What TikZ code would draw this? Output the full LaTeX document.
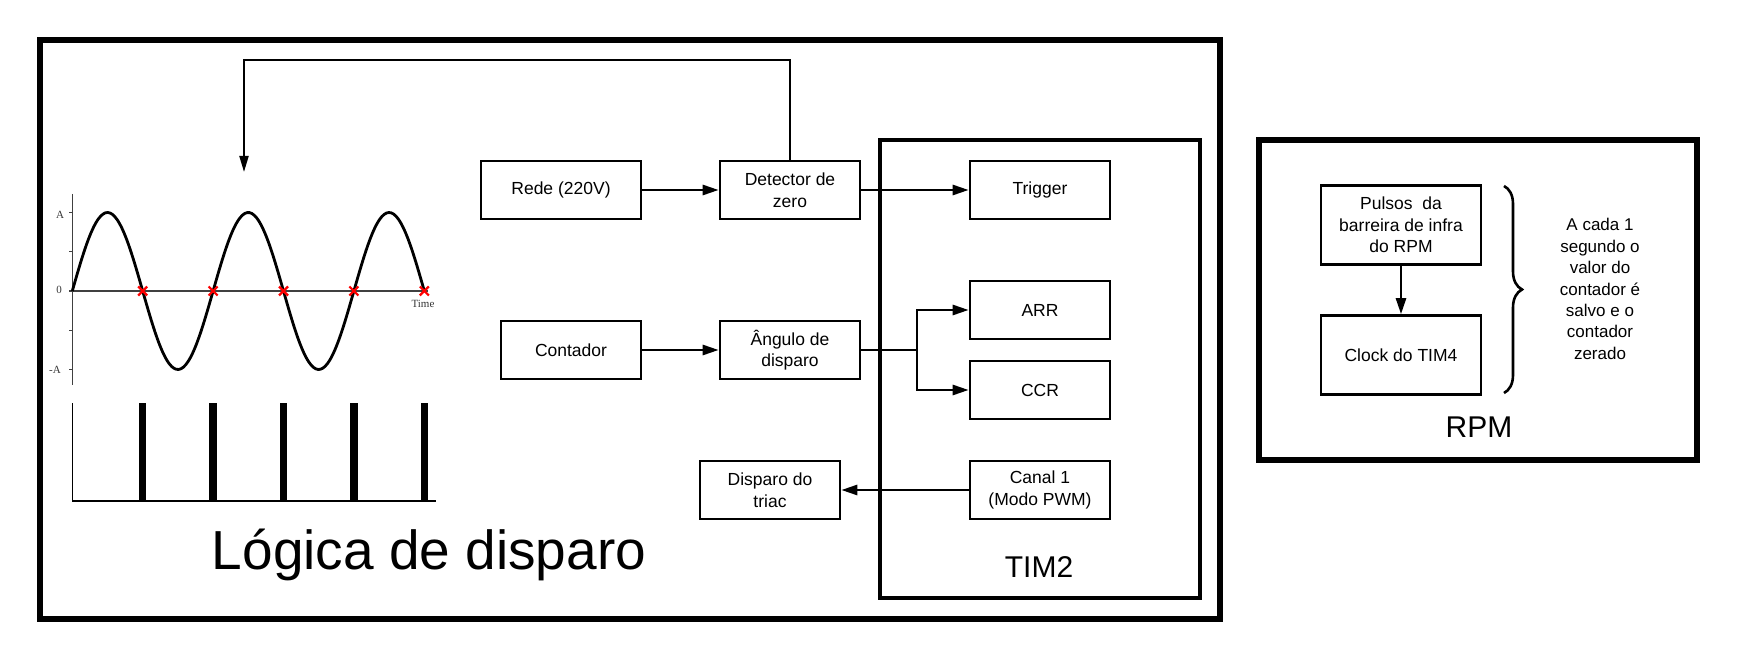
\documentclass[tikz,border=0pt]{standalone}
\usepackage{fontspec}
\setmainfont{Liberation Sans}
\newfontfamily\serifa{Liberation Serif}
\usepackage{tikz}
\usetikzlibrary{positioning}
\usetikzlibrary{arrows.meta}
\usetikzlibrary{decorations.pathreplacing}
\begin{document}
\begin{tikzpicture}[x=1pt,y=-1pt]
% paramètres
\tikzstyle blocodisparo=[draw,line width=2.6pt,minimum width=140pt,minimum height=58pt,inner sep=0pt,align=center,font=\fontsize{17.5}{21.5}\selectfont]
\tikzstyle moldura=[draw,line width=6pt]
\tikzstyle molduratim=[draw,line width=4.5pt]
\tikzstyle setadisparo=[line width=2.6pt,-{Triangle[length=16pt,width=10pt]}]
\tikzstyle eixoonda=[color=black!75,line width=1.3pt]
\tikzstyle curvaonda=[line width=2.8pt]
\tikzstyle cruzonda=[color=red,line width=2.2pt]
\tikzstyle rotuloonda=[color=black!80,font=\serifa\fontsize{11}{11}\selectfont]
\newcommand{\ondax}{72.3}   % origine de l'axe
\newcommand{\ondazero}{291} % ligne du zéro
\newcommand{\ondaamp}{78.5} % amplitude
\newcommand{\ondaper}{70.4} % demi-période
\useasboundingbox (0,0) rectangle (1740,660);
% les cadres
\draw [moldura] (40,40) rectangle (1220,619);
\draw [molduratim] (880,140) rectangle (1200,598);
\draw [moldura] (1259,140) rectangle (1697,460);
% la sinusoïde
\draw [eixoonda] (\ondax,194) -- (\ondax,385);
\draw [eixoonda] (\ondax,\ondazero) -- (428,\ondazero);
\foreach \y in {212.5,251.7,291,330.2,369.5}
    \draw [eixoonda] (\ondax-3,\y) -- (\ondax,\y);
\node [rotuloonda] (ra) at (60,215) {A};
\node [rotuloonda] (rz) at (59,290) {0};
\node [rotuloonda] (rm) at (55,370) {-A};
\node [rotuloonda] (rt) at (423,304) {Time};
\draw [curvaonda,domain=\ondax:424.3,samples=150,smooth] plot (\x,{\ondazero-\ondaamp*sin((\x-\ondax)/\ondaper*180)});
\foreach \x in {142.7,213.1,283.5,353.9,424.3}
    \draw [cruzonda] (\x-4.5,\ondazero-4.5) -- (\x+4.5,\ondazero+4.5) (\x-4.5,\ondazero+4.5) -- (\x+4.5,\ondazero-4.5);
% les impulsions
\draw [line width=1.3pt] (\ondax,403) -- (\ondax,501) -- (436,501);
\foreach \x in {142.7,213.1,283.5,353.9,424.3}
    \fill (\x-3.7,403) rectangle (\x+3.7,501);
% les blocs
\node [blocodisparo,minimum width=160pt] (rede) at (561,190) {Rede (220V)};
\node [blocodisparo] (detector) at (790,190) {Detector de\\zero};
\node [blocodisparo] (trigger) at (1040,190) {Trigger};
\node [blocodisparo] (contador) at (571,350) {Contador};
\node [blocodisparo] (angulo) at (790,350) {Ângulo de\\disparo};
\node [blocodisparo] (arr) at (1040,310) {ARR};
\node [blocodisparo] (ccr) at (1040,390) {CCR};
\node [blocodisparo] (canal) at (1040,490) {Canal 1\\(Modo PWM)};
\node [blocodisparo] (triac) at (770,490) {Disparo do\\triac};
\node [blocodisparo,minimum width=160pt,minimum height=79pt] (pulsos) at (1401,225) {Pulsos~ da\\barreira de infra\\do RPM};
\node [blocodisparo,minimum width=160pt,minimum height=79pt] (clock) at (1401,355) {Clock do TIM4};
% les titres
\node [anchor=base,font=\fontsize{55}{55}\selectfont] (logica) at (429,569) {Lógica de disparo};
\node [anchor=base,font=\fontsize{30}{30}\selectfont] (tim) at (1039,577) {TIM2};
\node [anchor=base,font=\fontsize{30}{30}\selectfont] (rpm) at (1479,437) {RPM};
\node [align=center,font=\fontsize{17}{21.4}\selectfont] (nota) at (1600,289) {A cada 1\\segundo o\\valor do\\contador é\\salvo e o\\contador\\zerado};
% les liaisons
\coordinate (onda) at (244,172);
\coordinate (retorno) at (244,60);
\coordinate (ramo) at (917,350);
\draw [setadisparo] (rede) -- (detector);
\draw [setadisparo] (detector) -- (trigger);
\draw [setadisparo,line width=2pt,-{Triangle[length=16pt,width=9pt]}] (detector.north) |- (retorno) -- (onda);
\draw [setadisparo] (contador) -- (angulo);
\draw [line width=2.6pt] (angulo.east) -- (ramo);
\draw [setadisparo] (ramo) |- (arr.west);
\draw [setadisparo] (ramo) |- (ccr.west);
\draw [setadisparo] (canal) -- (triac);
\draw [setadisparo] (pulsos) -- (clock);
\draw [line width=2.6pt,decorate,decoration={brace,amplitude=18pt}] (1504,186) -- (1504,393);
\end{tikzpicture}
\end{document}
